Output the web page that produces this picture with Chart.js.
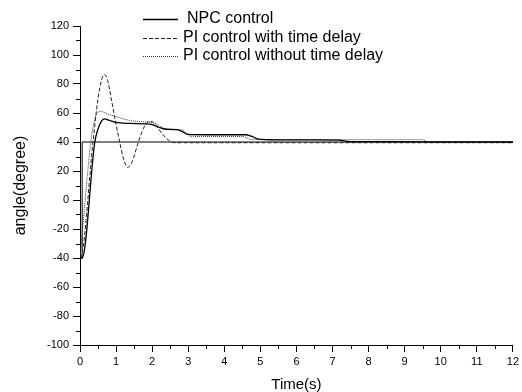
<!DOCTYPE html>
<html>
<head>
<meta charset="utf-8">
<script src="https://cdn.jsdelivr.net/npm/chart.js@4/dist/chart.umd.min.js"></script>
<style>
  body { margin: 0; background: #fff; }
  #wrap { width: 522px; height: 392px; }
</style>
</head>
<body>
<div id="wrap"><canvas id="angleChart" width="522" height="392"></canvas></div>
<script>
// values (time in s, angle in degree)
const tNPC = [0, 0.06, 0.41, 0.5, 0.6, 0.68, 0.8, 1.0, 1.4, 1.8, 2.0, 2.2, 2.4, 2.7, 2.85, 3.0, 3.5, 4.0, 4.6, 4.75, 4.95, 5.5, 6.5, 7.2, 7.35, 7.5, 8.5, 10, 12];
const yNPC = [-40, -40, 40, 49, 54.5, 56, 55, 53.5, 52.8, 52.5, 52, 50, 48.8, 48.5, 47, 45.2, 45, 45, 45, 44, 42, 41.5, 41.4, 41.3, 40.6, 40.3, 40.2, 40.1, 40];

const tDelay = [0, 0.05, 0.36, 0.5, 0.6, 0.68, 0.76, 0.88, 1.0, 1.1, 1.2, 1.32, 1.44, 1.6, 1.75, 1.9, 2.0, 2.1, 2.3, 2.5, 2.65, 3.5, 12];
const yDelay = [-40, -38, 40, 70, 83, 86.5, 83, 68, 52, 40, 29, 22.5, 26, 38.5, 49, 54, 54, 51.5, 45, 40.5, 39.5, 39.5, 39.5];

const tNoDelay = [0, 0.3, 0.4, 0.5, 0.58, 0.8, 1.0, 1.36, 1.7, 2.0, 2.15, 2.3, 2.5, 2.85, 2.95, 3.05, 3.5, 4.5, 4.6, 4.75, 5.5, 7, 8.5, 9.5, 9.65, 12];
const yNoDelay = [-40, 40, 55, 60.5, 61, 59, 57.5, 55, 54, 53.5, 52, 49.5, 48.5, 48.3, 46, 44, 43.8, 43.8, 43, 41.7, 41.6, 41.6, 41.6, 41.6, 39.7, 39.7];

// set point (step from -40 to 40)
const tRef = [0, 0.06, 0.06, 12];
const yRef = [-40, -40, 40, 40];

const seriesLabels = ['NPC control', 'PI control with time delay', 'PI control without time delay'];
const yTickValues = [-100, -80, -60, -40, -20, 0, 20, 40, 60, 80, 100, 120];
const xTickValues = [0, 1, 2, 3, 4, 5, 6, 7, 8, 9, 10, 11, 12];

const toPoints = (ts, ys) => ts.map((t, i) => ({x: t, y: ys[i]}));

const FONT = '"Liberation Sans", Arial, sans-serif';

// minor ticks are shorter than the major ones
const minorTicks = {
  id: 'minorTicks',
  afterDraw(chart) {
    const {ctx, chartArea} = chart;
    const xs = chart.scales.x, ys = chart.scales.y;
    ctx.save();
    ctx.strokeStyle = '#000';
    ctx.lineWidth = 1;
    ys.ticks.forEach(t => {
      if (!yTickValues.includes(t.value)) {
        const py = Math.round(ys.getPixelForValue(t.value)) + 0.5;
        ctx.beginPath();
        ctx.moveTo(chartArea.left - 4, py);
        ctx.lineTo(chartArea.left, py);
        ctx.stroke();
      }
    });
    xs.ticks.forEach(t => {
      if (!xTickValues.includes(t.value)) {
        const px = Math.round(xs.getPixelForValue(t.value)) + 0.5;
        ctx.beginPath();
        ctx.moveTo(px, chartArea.bottom);
        ctx.lineTo(px, chartArea.bottom + 4);
        ctx.stroke();
      }
    });
    ctx.restore();
  }
};

// left aligned legend block at the top, like the original figure
const stackedLegend = {
  id: 'stackedLegend',
  afterDraw(chart) {
    const {ctx} = chart;
    const rows = [19, 37.5, 56];
    ctx.save();
    ctx.font = '16px ' + FONT;
    ctx.textBaseline = 'middle';
    ctx.fillStyle = '#000';
    seriesLabels.forEach((lab, i) => {
      const ds = chart.data.datasets[i];
      ctx.strokeStyle = ds.borderColor;
      ctx.lineWidth = ds.borderWidth;
      ctx.setLineDash(ds.borderDash || []);
      ctx.beginPath();
      ctx.moveTo(143, Math.round(rows[i]) + 0.5);
      ctx.lineTo(178, Math.round(rows[i]) + 0.5);
      ctx.stroke();
      ctx.fillText(lab, i === 0 ? 187 : 183, rows[i]);
    });
    ctx.restore();
  }
};

const ctx = document.getElementById('angleChart').getContext('2d');
new Chart(ctx, {
  type: 'line',
  data: {
    datasets: [
      {
        label: seriesLabels[0],
        data: toPoints(tNPC, yNPC),
        borderColor: '#000',
        borderWidth: 1.3,
        cubicInterpolationMode: 'monotone'
      },
      {
        label: seriesLabels[1],
        data: toPoints(tDelay, yDelay),
        borderColor: '#222',
        borderWidth: 1,
        borderDash: [4, 2],
        cubicInterpolationMode: 'monotone'
      },
      {
        label: seriesLabels[2],
        data: toPoints(tNoDelay, yNoDelay),
        borderColor: '#333',
        borderWidth: 1,
        borderDash: [1, 1],
        cubicInterpolationMode: 'monotone'
      },
      {
        label: '',
        data: toPoints(tRef, yRef),
        borderColor: '#000',
        borderWidth: 1,
        tension: 0
      }
    ]
  },
  options: {
    responsive: false,
    animation: false,
    devicePixelRatio: 1,
    elements: { point: { radius: 0 } },
    layout: { padding: { left: 0, right: 8, top: 26, bottom: 0 } },
    plugins: {
      legend: { display: false },
      tooltip: { enabled: false }
    },
    scales: {
      x: {
        type: 'linear',
        min: 0,
        max: 12,
        border: { display: true, color: '#000', width: 1 },
        grid: {
          drawOnChartArea: false,
          tickLength: 7,
          tickColor: c => (c.tick && xTickValues.includes(c.tick.value)) ? '#000' : 'rgba(0,0,0,0)'
        },
        ticks: {
          stepSize: 0.5,
          autoSkip: false,
          maxRotation: 0,
          padding: 3,
          color: '#000',
          font: { family: FONT, size: 11 },
          callback: v => xTickValues.includes(v) ? String(v) : ''
        },
        title: {
          display: true,
          text: 'Time(s)',
          color: '#000',
          font: { family: FONT, size: 15, lineHeight: 1 },
          padding: { top: 0, bottom: 0 }
        },
        afterFit: s => { s.height = 47; }
      },
      y: {
        min: -100,
        max: 120,
        border: { display: true, color: '#000', width: 1 },
        grid: {
          drawOnChartArea: false,
          tickLength: 7,
          tickColor: c => (c.tick && yTickValues.includes(c.tick.value)) ? '#000' : 'rgba(0,0,0,0)'
        },
        ticks: {
          stepSize: 10,
          autoSkip: false,
          padding: 4,
          color: '#000',
          font: { family: FONT, size: 11 },
          callback: v => yTickValues.includes(v) ? String(v) : ''
        },
        title: {
          display: true,
          text: 'angle(degree)',
          color: '#000',
          font: { family: FONT, size: 16, lineHeight: 1 },
          padding: { top: 13, bottom: 0 }
        },
        afterFit: s => { s.width = 80; }
      }
    }
  },
  plugins: [minorTicks, stackedLegend]
});
</script>
</body>
</html>
